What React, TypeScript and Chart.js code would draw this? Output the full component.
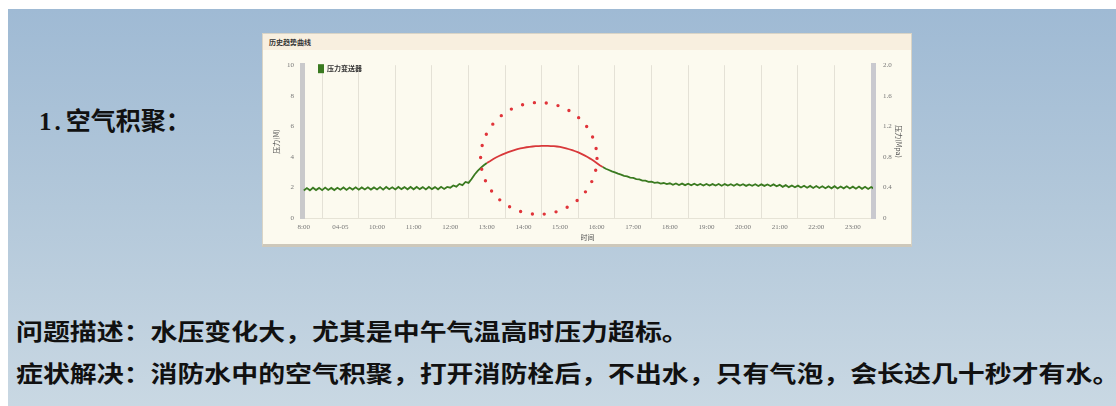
import React, { useEffect, useRef } from "react";
import { Chart, registerables } from "chart.js";

Chart.register(...registerables);

// ---------- data ----------
const startHour = 8;
const stepMinutes = 5;

const pressure08 = [1.8, 1.96, 1.81, 1.98, 1.83, 1.97, 1.82, 1.99, 1.84, 1.97, 1.83, 1.98];
const pressure09 = [1.85, 2.0, 1.84, 1.99, 1.86, 2.01, 1.85, 2.0, 1.87, 2.01, 1.86, 2.0];
const pressure10 = [1.87, 2.02, 1.86, 2.03, 1.88, 2.01, 1.87, 2.03, 1.89, 2.02, 1.88, 2.03];
const pressure11 = [1.88, 2.03, 1.89, 2.02, 1.87, 2.03, 1.89, 2.02, 1.88, 2.04, 1.9, 2.03];
const pressure12 = [1.98, 2.13, 2.05, 2.23, 2.15, 2.36, 2.3, 2.55, 2.85, 3.08, 3.28, 3.45];
const pressure13 = [3.6, 3.72, 3.85, 3.96, 4.06, 4.15, 4.23, 4.31, 4.38, 4.44, 4.5, 4.55];
const pressure14 = [4.59, 4.63, 4.66, 4.68, 4.7, 4.71, 4.72, 4.72, 4.72, 4.71, 4.7, 4.68];
const pressure15 = [4.65, 4.61, 4.56, 4.5, 4.44, 4.37, 4.29, 4.2, 4.1, 3.99, 3.87, 3.74];
const pressure16 = [3.6, 3.45, 3.34, 3.22, 3.14, 3.05, 2.98, 2.9, 2.84, 2.76, 2.72, 2.64];
const pressure17 = [2.62, 2.55, 2.53, 2.45, 2.44, 2.36, 2.38, 2.3, 2.33, 2.25, 2.29, 2.22];
const pressure18 = [2.27, 2.17, 2.26, 2.16, 2.25, 2.15, 2.24, 2.14, 2.24, 2.14, 2.23, 2.13];
const pressure19 = [2.23, 2.12, 2.22, 2.13, 2.23, 2.11, 2.22, 2.12, 2.21, 2.11, 2.22, 2.12];
const pressure20 = [2.21, 2.1, 2.2, 2.11, 2.21, 2.09, 2.2, 2.1, 2.19, 2.09, 2.2, 2.08];
const pressure21 = [2.17, 2.04, 2.15, 2.02, 2.13, 2.01, 2.12, 2.0, 2.11, 1.98, 2.1, 1.97];
const pressure22 = [2.09, 1.96, 2.08, 1.95, 2.07, 1.94, 2.08, 1.93, 2.06, 1.94, 2.07, 1.93];
const pressure23 = [2.05, 1.92, 2.06, 1.91, 2.04, 1.9, 2.03, 1.91];

const pressureSeries = [
  ...pressure08, ...pressure09, ...pressure10, ...pressure11,
  ...pressure12, ...pressure13, ...pressure14, ...pressure15,
  ...pressure16, ...pressure17, ...pressure18, ...pressure19,
  ...pressure20, ...pressure21, ...pressure22, ...pressure23,
];

const xTickValues = [
  8, 8.5, 9, 9.5, 10, 10.5, 11, 11.5, 12, 12.5, 13, 13.5, 14, 14.5, 15, 15.5,
  16, 16.5, 17, 17.5, 18, 18.5, 19, 19.5, 20, 20.5, 21, 21.5, 22, 22.5, 23, 23.5,
];
const xTickLabels = [
  "8:00", "04-05", "10:00", "11:00", "12:00", "13:00", "14:00", "15:00",
  "16:00", "17:00", "18:00", "19:00", "20:00", "21:00", "22:00", "23:00",
];
const leftTickValues = [0, 2, 4, 6, 8, 10];
const rightTickValues = [0, 0.4, 0.8, 1.2, 1.6, 2];

const highlightRange = [13.0, 16.1];
const circleCenter = [14.42, 3.9];
const circleRadius = [1.59, 3.66];

const legendLabel = "压力变送器";
const chartTitle = "历史趋势曲线";

const GREEN = "#3a7a20";
const RED = "#d8383a";

const circlePlugin = {
  id: "circleMark",
  afterDatasetsDraw(chart: any) {
    const xs = chart.scales.x;
    const ys = chart.scales.y;
    const cx = xs.getPixelForValue(circleCenter[0]);
    const cy = ys.getPixelForValue(circleCenter[1]);
    const rx = Math.abs(xs.getPixelForValue(circleCenter[0] + circleRadius[0]) - cx);
    const ry = Math.abs(ys.getPixelForValue(circleCenter[1] + circleRadius[1]) - cy);
    const ctx = chart.ctx;
    ctx.save();
    ctx.beginPath();
    ctx.ellipse(cx, cy, rx, ry, 0, 0, Math.PI * 2);
    ctx.setLineDash([0, 12]);
    ctx.lineCap = "round";
    ctx.lineWidth = 3.4;
    ctx.strokeStyle = "#e0343a";
    ctx.stroke();
    ctx.restore();
  },
};

const legendPlugin = {
  id: "innerLegend",
  afterDraw(chart: any) {
    const ds = chart.data.datasets[0];
    const { left, top } = chart.chartArea;
    const ctx = chart.ctx;
    ctx.save();
    ctx.fillStyle = ds.backgroundColor;
    ctx.fillRect(left + 16, top - 1, 6, 9);
    ctx.fillStyle = "#333";
    ctx.font = "bold 7px 'Noto Sans CJK SC'";
    ctx.textBaseline = "middle";
    ctx.fillText(ds.label, left + 25, top + 3.5);
    ctx.restore();
  },
};

function TrendChart() {
  const ref = useRef<HTMLCanvasElement | null>(null);
  useEffect(() => {
    if (!ref.current) return;
    const points = pressureSeries.map((v, i) => ({
      x: startHour + (i * stepMinutes) / 60,
      y: v,
    }));
    const tickFont = { family: "'Liberation Serif', serif", size: 7 };
    const chart = new Chart(ref.current, {
      type: "line",
      data: {
        datasets: [
          {
            label: legendLabel,
            data: points,
            borderColor: GREEN,
            backgroundColor: GREEN,
            borderWidth: 1.8,
            pointRadius: 0,
            tension: 0,
            yAxisID: "y",
            segment: {
              borderColor: (c: any) => {
                const x = c.p0.parsed.x;
                return x >= highlightRange[0] && x < highlightRange[1] ? RED : GREEN;
              },
            },
          },
        ],
      },
      options: {
        animation: false,
        responsive: false,
        maintainAspectRatio: false,
        layout: { padding: { top: 8, left: 0, right: 0, bottom: 0 } },
        plugins: { legend: { display: false }, tooltip: { enabled: false } },
        scales: {
          x: {
            type: "linear",
            min: 7.95,
            max: 23.55,
            afterBuildTicks: (s: any) => {
              s.ticks = xTickValues.map((v) => ({ value: v }));
            },
            afterFit: (s: any) => {
              s.height = 27;
            },
            ticks: {
              autoSkip: false,
              maxRotation: 0,
              padding: 5,
              color: "#777",
              font: tickFont,
              callback: (v: any) =>
                Number(v) % 1 === 0 ? xTickLabels[Number(v) - startHour] : "",
            },
            grid: {
              drawTicks: false,
              color: (c: any) =>
                c.tick && c.tick.value % 1 !== 0 ? "#e4e1d6" : "rgba(0,0,0,0)",
            },
            border: { color: "#e6e3d6", width: 1 },
            title: {
              display: true,
              text: "时间",
              color: "#555",
              font: { family: "'Noto Sans CJK SC'", size: 7 },
              padding: { top: 0, bottom: 3 },
            },
          },
          y: {
            position: "left",
            min: 0,
            max: 10,
            afterBuildTicks: (s: any) => {
              s.ticks = leftTickValues.map((v) => ({ value: v }));
            },
            afterFit: (s: any) => {
              s.width = 38;
            },
            ticks: { padding: 8, color: "#777", font: tickFont },
            grid: { display: false, drawTicks: false },
            border: { color: "#c9c9cb", width: 5 },
            title: {
              display: true,
              text: "压力(M)",
              color: "#555",
              font: { family: "'Noto Sans CJK SC'", size: 7 },
              padding: { top: 8, bottom: 0 },
            },
          },
          y1: {
            position: "right",
            min: 0,
            max: 2,
            afterBuildTicks: (s: any) => {
              s.ticks = rightTickValues.map((v) => ({ value: v }));
            },
            afterFit: (s: any) => {
              s.width = 39;
            },
            ticks: { padding: 10, color: "#777", font: tickFont },
            grid: { display: false, drawTicks: false },
            border: { color: "#c9c9cf", width: 5 },
            title: {
              display: true,
              text: "压力(Mpa)",
              color: "#555",
              font: { family: "'Noto Sans CJK SC'", size: 7 },
              padding: { top: 9, bottom: 0 },
            },
          },
        },
      },
      plugins: [circlePlugin, legendPlugin],
    } as any);
    return () => chart.destroy();
  }, []);
  return (
    <canvas
      ref={ref}
      width={648}
      height={194}
      style={{ position: "absolute", left: 1, top: 17, width: 648, height: 194 }}
    />
  );
}

export default function App() {
  const cjk = "'Liberation Serif', 'Noto Sans CJK SC', serif";
  return (
    <div
      style={{
        position: "fixed",
        left: 0,
        top: 0,
        width: 1116,
        height: 406,
        background: "#ffffff",
        overflow: "hidden",
      }}
    >
      <div
        style={{
          position: "absolute",
          left: 8,
          top: 9,
          right: 0,
          bottom: 0,
          background: "linear-gradient(180deg, #9fbad4 0%, #b3c8da 50%, #c9d8e3 100%)",
        }}
      />
      <div
        style={{
          position: "absolute",
          left: 39,
          top: 106,
          fontFamily: cjk,
          fontWeight: 700,
          fontSize: 25,
          lineHeight: "32px",
          color: "#111",
          whiteSpace: "nowrap",
        }}
      >
        <span style={{ letterSpacing: 3 }}>1.</span>
        <span style={{ marginLeft: 2 }}>空气积聚：</span>
      </div>

      {/* chart panel */}
      <div
        style={{
          position: "absolute",
          left: 262,
          top: 33,
          width: 650,
          height: 214,
          background: "#fcfaef",
          boxSizing: "border-box",
          border: "1px solid #d9d4c6",
          borderBottom: "3px solid #cdc8bb",
        }}
      >
        <div
          style={{
            position: "absolute",
            left: 0,
            top: 0,
            right: 0,
            height: 16,
            background: "#f8efdf",
          }}
        />
        <div
          style={{
            position: "absolute",
            left: 6,
            top: 4,
            fontFamily: "'Noto Sans CJK SC'",
            fontWeight: 700,
            fontSize: 7,
            lineHeight: "9px",
            color: "#333",
            whiteSpace: "nowrap",
          }}
        >
          {chartTitle}
        </div>
        <TrendChart />
      </div>

      {/* bottom text */}
      <div
        style={{
          position: "absolute",
          left: 16,
          top: 312,
          fontFamily: cjk,
          fontWeight: 700,
          fontSize: 23,
          lineHeight: "42px",
          color: "#111",
          whiteSpace: "nowrap",
          transform: "scaleX(1.17)",
          transformOrigin: "0 0",
        }}
      >
        <div>问题描述：水压变化大，尤其是中午气温高时压力超标。</div>
        <div>症状解决：消防水中的空气积聚，打开消防栓后，不出水，只有气泡，会长达几十秒才有水。</div>
      </div>
    </div>
  );
}
